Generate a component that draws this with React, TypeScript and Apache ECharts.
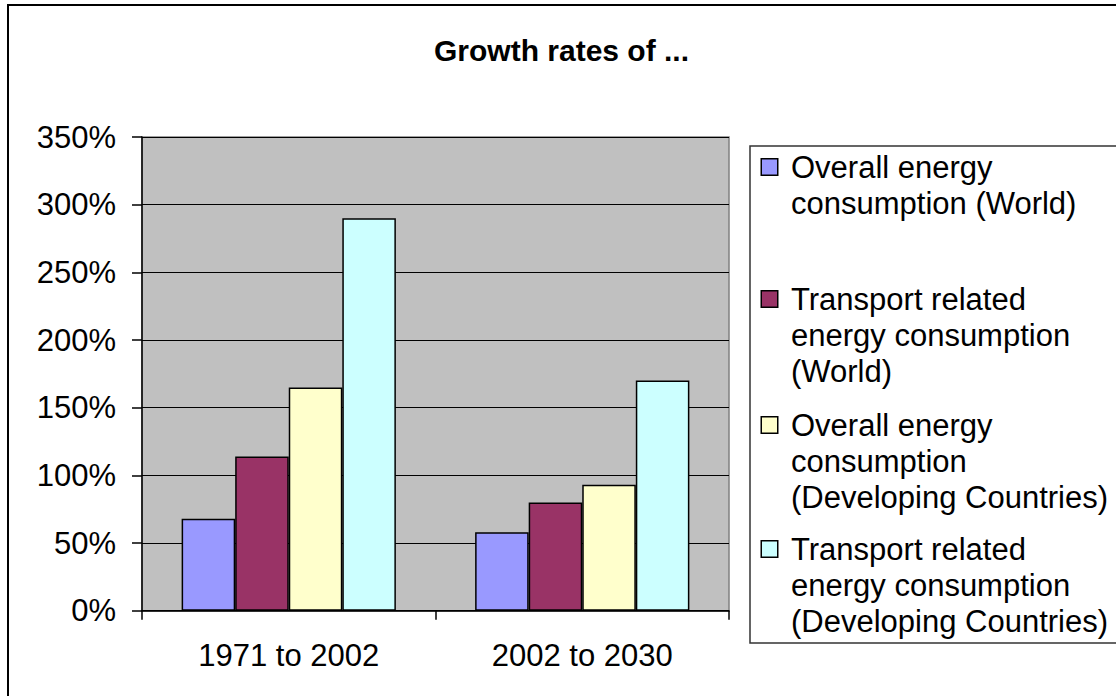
import React, { useEffect, useRef } from "react";
import * as echarts from "echarts";

const categories = ["1971 to 2002", "2002 to 2030"];
const seriesNames = [
  "Overall energy consumption (World)",
  "Transport related energy consumption (World)",
  "Overall energy consumption (Developing Countries)",
  "Transport related energy consumption (Developing Countries)",
];
const legendLabels = [
  ["Overall energy", "consumption (World)"],
  ["Transport related", "energy consumption", "(World)"],
  ["Overall energy", "consumption", "(Developing Countries)"],
  ["Transport related", "energy consumption", "(Developing Countries)"],
];
const overallWorld = [0.68, 0.58];
const transportWorld = [1.14, 0.8];
const overallDeveloping = [1.65, 0.93];
const transportDeveloping = [2.9, 1.7];
const seriesValues = [overallWorld, transportWorld, overallDeveloping, transportDeveloping];
const seriesColors = ["#9999FF", "#993366", "#FFFFCC", "#CCFFFF"];
const titleText = "Growth rates of ...";

const FONT = "'Liberation Sans', Arial, sans-serif";

export default function App() {
  const ref = useRef<HTMLDivElement>(null);
  useEffect(() => {
    if (!ref.current) return;
    const chart = echarts.init(ref.current, null, { renderer: "svg" });
    const legendTops = [149, 281, 407, 531];
    chart.setOption({
      animation: false,
      backgroundColor: "#ffffff",
      textStyle: { fontFamily: FONT },
      title: {
        text: titleText,
        left: 434,
        top: 35,
        padding: 0,
        textStyle: { fontSize: 30, fontWeight: "bold", color: "#000", fontFamily: FONT },
      },
      grid: {
        left: 142,
        right: 387,
        top: 137,
        bottom: 85.3,
        show: true,
        backgroundColor: "#C0C0C0",
        borderColor: "#808080",
        borderWidth: 1.5,
      },
      xAxis: {
        type: "category",
        data: categories,
        axisLine: { lineStyle: { color: "#000", width: 1.5 } },
        axisTick: { show: true, length: 9, lineStyle: { color: "#000", width: 1.5 } },
        axisLabel: { fontSize: 31, color: "#000", margin: 29, fontFamily: FONT },
        splitLine: { show: false },
      },
      yAxis: {
        type: "value",
        min: 0,
        max: 3.5,
        interval: 0.5,
        axisLine: { show: true, lineStyle: { color: "#000", width: 1.5 } },
        axisTick: { show: true, length: 10, lineStyle: { color: "#000", width: 1.5 } },
        axisLabel: {
          fontSize: 31,
          color: "#000",
          margin: 26,
          fontFamily: FONT,
          formatter: (v: number) => `${Math.round(v * 100)}%`,
        },
        splitLine: { show: true, lineStyle: { color: "#000", width: 1.2 } },
      },
      legend: seriesNames.map((name, i) => ({
        data: [name],
        orient: "vertical",
        left: 757,
        top: legendTops[i],
        padding: 0,
        itemWidth: 0,
        itemHeight: 0,
        icon: "none",
        selectedMode: false,
        formatter: () =>
          legendLabels[i]
            .map((line, j) => (j === 0 ? `{box|}{gap|}{t|${line}}` : `{ind|}{t|${line}}`))
            .join("\n"),
        textStyle: {
          fontSize: 31,
          lineHeight: 36,
          color: "#000",
          fontFamily: FONT,
          rich: {
            box: {
              width: 15,
              height: 15,
              backgroundColor: seriesColors[i],
              borderColor: "#000",
              borderWidth: 1.5,
              lineHeight: 36,
              verticalAlign: "middle",
            },
            gap: { width: 14, height: 15, lineHeight: 36 },
            ind: { width: 29, height: 15, lineHeight: 36 },
            t: { fontSize: 31, lineHeight: 36, color: "#000", fontFamily: FONT },
          },
        },
      })),
      graphic: [
        {
          type: "rect",
          shape: { x: 8, y: 5, width: 1200, height: 800 },
          style: { fill: "none", stroke: "#000", lineWidth: 2 },
          silent: true,
          z: -10,
        },
        {
          type: "rect",
          shape: { x: 750, y: 146, width: 500, height: 497 },
          style: { fill: "none", stroke: "#333", lineWidth: 1.5 },
          silent: true,
        },
      ],
      series: seriesNames.map((name, i) => ({
        name,
        type: "bar",
        data: seriesValues[i],
        barGap: "0%",
        barCategoryGap: "27%",
        itemStyle: { color: seriesColors[i], borderColor: "#000", borderWidth: 1.5 },
      })),
    });
    return () => chart.dispose();
  }, []);
  return (
    <div
      ref={ref}
      style={{ position: "absolute", left: 0, top: 0, width: 1116, height: 696 }}
    />
  );
}
